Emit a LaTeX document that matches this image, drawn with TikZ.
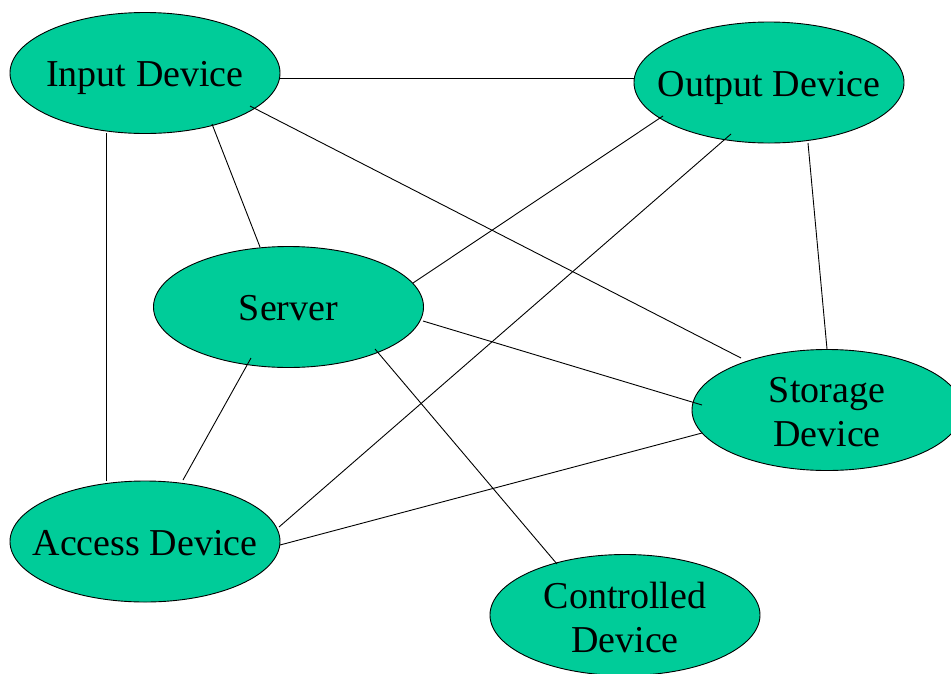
\documentclass[tikz,border=0pt]{standalone}
\usepackage{fontspec}
\setmainfont{Liberation Serif}
\usetikzlibrary{shapes.geometric,calc}
\definecolor{devgreen}{RGB}{0,204,153}
\tikzset{
  device/.style={ellipse, draw=black, line width=0.9pt, fill=devgreen,
    minimum width=270pt, minimum height=121pt, inner sep=0pt},
  devfont/.style={inner sep=0pt, font=\fontsize{38}{44}\selectfont},
  % one-line name: fixed box so baselines sit alike
  devtext/.style={devfont, text height=27pt, text depth=0pt},
  % two-line name
  devlines/.style={devfont, align=center, yshift=-2pt},
  link/.style={draw=black, line width=0.9pt}
}
\begin{document}
\begin{tikzpicture}[x=1pt,y=-1pt]
  \useasboundingbox (0,0) rectangle (951,673);
  \clip (0,0) rectangle (951,673);
  \fill[white] (0,0) rectangle (951,673);

  % devices: fixed-size ellipses, names set as centred labels
  \node[device, label={[devtext]center:Input Device}]        (in)  at (145,73)    {};
  \node[device, label={[devtext]center:Output Device}]       (out) at (769,82.5)  {};
  \node[device, label={[devtext]center:Server}]              (srv) at (288.5,307) {};
  \node[device, label={[devlines]center:Storage\\Device}]    (sto) at (827,410)   {};
  \node[device, label={[devtext]center:Access Device}]       (acc) at (145,541.5) {};
  \node[device, label={[devlines]center:Controlled\\Device}] (ctl) at (625,615)   {};

  % connections
  \draw[link] ($(in)+(135,5)$)      -- ($(out)+(-135,-4.5)$);
  \draw[link] ($(in)+(67,51)$)      -- ($(srv)+(-28.5,-60)$);
  \draw[link] ($(in)+(-39,60)$)     -- ($(acc)+(-39,-60.5)$);
  \draw[link] ($(in)+(105,33)$)     -- ($(sto)+(-86,-52)$);
  \draw[link] ($(out)+(-106,33.5)$) -- ($(srv)+(124.5,-24)$);
  \draw[link] ($(out)+(-38,51.5)$)  -- ($(acc)+(134,-14.5)$);
  \draw[link] ($(out)+(39,60.5)$)   -- ($(sto)+(0,-61)$);
  \draw[link] ($(srv)+(134.5,14)$)  -- ($(sto)+(-125,-5)$);
  \draw[link] ($(srv)+(-37.5,51)$)  -- ($(acc)+(38,-61.5)$);
  \draw[link] ($(srv)+(86.5,42)$)   -- ($(ctl)+(-68,-51)$);
  \draw[link] ($(acc)+(135,3.5)$)   -- ($(sto)+(-125,23)$);
\end{tikzpicture}
\end{document}
